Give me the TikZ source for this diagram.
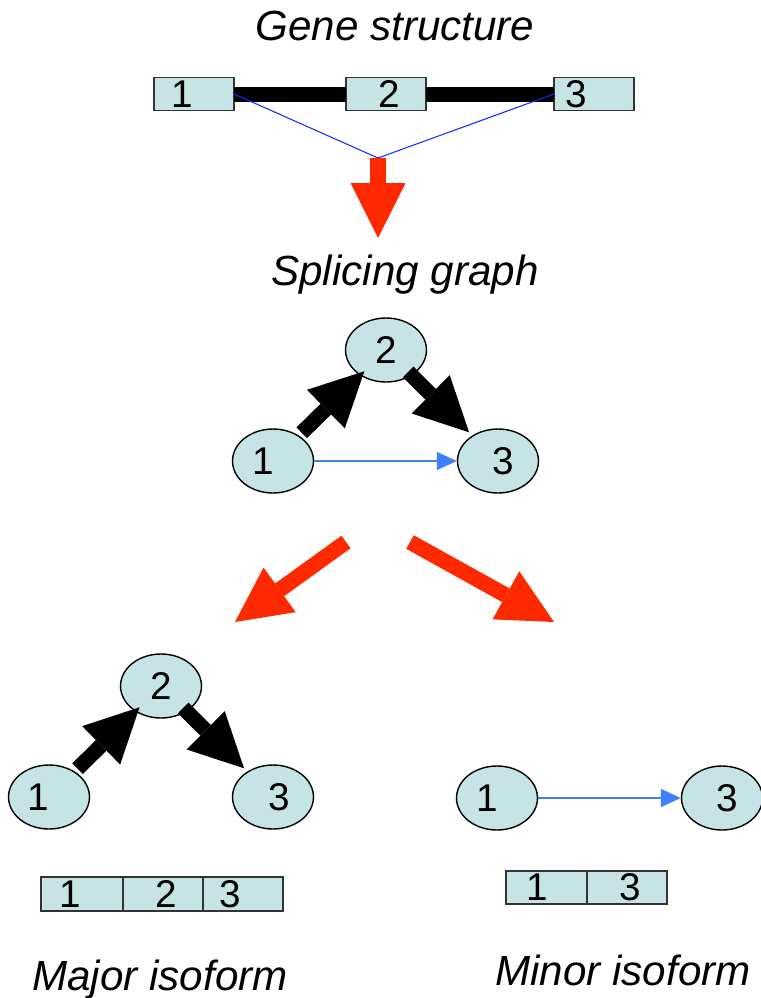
\documentclass[tikz,border=0pt]{standalone}
\usepackage{fontspec}
\setmainfont{Liberation Sans}
\usetikzlibrary{arrows.meta,positioning,shapes.geometric}
\definecolor{exonfill}{RGB}{198,228,230}
\definecolor{flowred}{RGB}{255,41,0}
\definecolor{skipblue}{RGB}{64,128,255}
\definecolor{splitblue}{RGB}{20,40,255}

\begin{document}
\begin{tikzpicture}[x=0.02cm,y=-0.02cm,
  digit/.style={inner sep=0pt,font=\fontsize{22}{25}\selectfont},
  exon/.style={draw=black!80,line width=0.8pt,fill=exonfill,minimum width=1.6cm,
    minimum height=0.66cm,inner sep=0pt,outer sep=0pt},
  vertex/.style={ellipse,draw,line width=0.8pt,fill=exonfill,minimum width=1.62cm,
    minimum height=1.28cm,inner sep=0pt},
  title/.style={anchor=base,font=\fontsize{24}{28}\selectfont\itshape},
  heavy/.style={line width=0.3cm,-{Triangle[length=1.08cm,width=1.08cm,line width=0pt]}},
  climb/.style={shorten <=0.08cm,shorten >=-0.12cm},
  descend/.style={shorten <=-0.1cm,shorten >=0.09cm},
  flow/.style={flowred,line width=0.31cm,-{Triangle[length=1.1cm,width=1.1cm,line width=0pt]}},
  skip/.style={skipblue,line width=0.85pt,-{Triangle[length=0.4cm,width=0.36cm]}}]
  \useasboundingbox (0,0) rectangle (761,998);

  % exons and introns
  \node[title] (gs) at (395,40) {Gene structure};
  \node[exon,label={[digit,xshift=-0.24cm]center:1}] (b1) at (194,94) {};
  \node[exon,label={[digit,xshift=0.06cm]center:2}] (b2) at (386,94) {};
  \node[exon,label={[digit,xshift=-0.36cm]center:3}] (b3) at (594,94) {};
  \draw[line width=0.3cm] (b1) -- (b2) (b2) -- (b3);
  \coordinate (join) at (378,158);
  \coordinate (joindown) at (378,238);
  \draw[splitblue,line width=0.6pt] (b1.east) -- (join) -- (b3.west);
  \draw[flow] (join) -- (joindown);

  % splicing graph
  \node[title] (sg) at (405,285) {Splicing graph};
  \node[vertex,label={[digit,xshift=-0.2cm]center:1}] (g1) at (273,461) {};
  \node[vertex,label={[digit]center:2}] (g2) at (386,350) {};
  \node[vertex,label={[digit,xshift=0.1cm]center:3}] (g3) at (498,461) {};
  \draw[heavy,climb] (g1) -- (g2);
  \draw[heavy,descend] (g2) -- (g3);
  \draw[skip] (g1) -- (g3);

  \coordinate (splitl) at (346,542);
  \coordinate (tipl) at (235,622);
  \coordinate (splitr) at (410,542);
  \coordinate (tipr) at (554,622);
  \draw[flow] (splitl) -- (tipl);
  \draw[flow] (splitr) -- (tipr);

  % major isoform: 1-2-3
  \node[vertex,label={[digit,xshift=-0.22cm]center:1}] (a1) at (49,797) {};
  \node[vertex,label={[digit]center:2}] (a2) at (161,686) {};
  \node[vertex,label={[digit,xshift=0.12cm]center:3}] (a3) at (273,797) {};
  \draw[heavy,climb] (a1) -- (a2);
  \draw[heavy,descend] (a2) -- (a3);
  \node[exon,minimum width=1.64cm,minimum height=0.68cm,
    label={[digit,xshift=-0.24cm]center:1}] (m1) at (82,894) {};
  \node[exon,minimum height=0.68cm,right=0pt of m1,
    label={[digit,xshift=0.06cm]center:2}] (m2) {};
  \node[exon,minimum height=0.68cm,right=0pt of m2,
    label={[digit,xshift=-0.26cm]center:3}] (m3) {};
  \node[title] (maj) at (160,990) {Major isoform};

  % minor isoform: 1-3
  \node[vertex,label={[digit,xshift=-0.2cm]center:1}] (c1) at (497,798) {};
  \node[vertex,label={[digit,xshift=0.1cm]center:3}] (c3) at (722,798) {};
  \draw[skip] (c1) -- (c3);
  \node[exon,minimum width=1.62cm,label={[digit,xshift=-0.18cm]center:1}] (n1) at (546.5,887.5) {};
  \node[exon,right=0pt of n1,label={[digit,xshift=0.06cm]center:3}] (n3) {};
  \node[title] (mnr) at (623,985) {Minor isoform};
\end{tikzpicture}
\end{document}
